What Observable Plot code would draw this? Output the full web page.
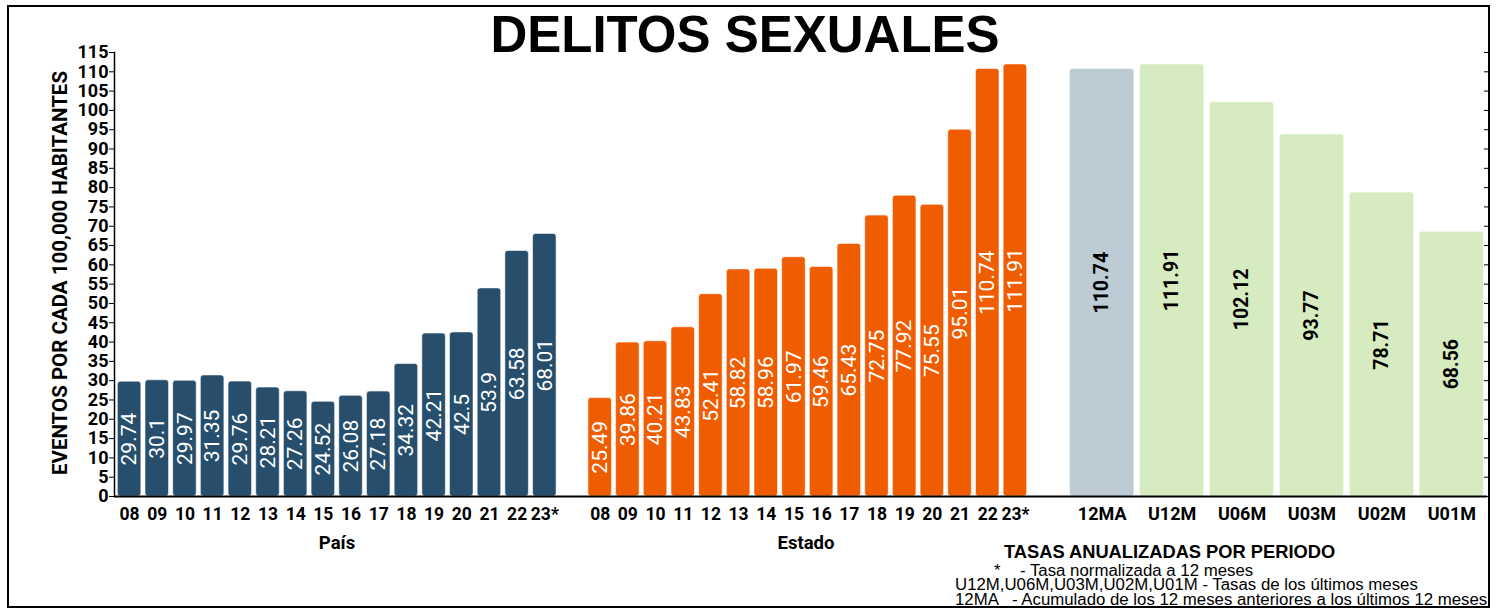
<!DOCTYPE html>
<html>
<head>
<meta charset="utf-8">
<script src="https://cdn.jsdelivr.net/npm/d3@7"></script>
<script src="https://cdn.jsdelivr.net/npm/@observablehq/plot@0.6"></script>
<style>
  html, body { margin: 0; padding: 0; background: #fff; }
  #wrap { position: relative; width: 1502px; height: 611px; background: #fff; overflow: hidden; }
  #wrap > div, #wrap > svg { position: absolute; }
  .title { font-family: "Liberation Sans", Arial, sans-serif; font-weight: bold; font-size: 51px; left: 0; width: 1490px; text-align: center; top: 5px; line-height: 60px; color: #000; }
  .ylab { font-family: Roboto, sans-serif; font-weight: bold; font-size: 20.5px; white-space: nowrap; transform-origin: center center; }
  .grp { font-family: Roboto, sans-serif; font-weight: bold; font-size: 18.5px; white-space: nowrap; transform: translateX(-50%); }
  .note { font-family: "Liberation Sans", Arial, sans-serif; font-size: 16px; white-space: pre; line-height: 14px; color: #000; transform: scaleX(1.05); transform-origin: left center; }
  .border { left: 7px; top: 5px; width: 1483px; height: 603px; box-sizing: border-box; border: 2px solid #000; pointer-events: none; }
</style>
</head>
<body>
<div id="wrap"></div>
<script>
// ---- Data ----
const years = ["08","09","10","11","12","13","14","15","16","17","18","19","20","21","22","23*"];
const paisValues = [29.74, 30.1, 29.97, 31.35, 29.76, 28.21, 27.26, 24.52, 26.08, 27.18, 34.32, 42.21, 42.5, 53.9, 63.58, 68.01];
const estadoValues = [25.49, 39.86, 40.21, 43.83, 52.41, 58.82, 58.96, 61.97, 59.46, 65.43, 72.75, 77.92, 75.55, 95.01, 110.74, 111.91];
const periods = ["12MA","U12M","U06M","U03M","U02M","U01M"];
const periodValues = [110.74, 111.91, 102.12, 93.77, 78.71, 68.56];
const yTicks = [0,5,10,15,20,25,30,35,40,45,50,55,60,65,70,75,80,85,90,95,100,105,110,115];

// ---- Tables ----
const paisRows = years.map((y, i) => ({key: "P" + y, label: y, value: paisValues[i], group: "País"}));
const estadoRows = years.map((y, i) => ({key: "E" + y, label: y, value: estadoValues[i], group: "Estado"}));
const leftDomain = [...paisRows.map(d => d.key), "gap", ...estadoRows.map(d => d.key)];
const labelOf = new Map([...paisRows, ...estadoRows].map(d => [d.key, d.label]));
const periodRows = periods.map((p, i) => ({period: p, value: periodValues[i]}));

const H = 611, baseY = 496, topY = 52;
const wrap = document.getElementById("wrap");

const left = Plot.plot({
  width: 1030, height: H,
  marginLeft: 114, marginRight: 0, marginTop: topY, marginBottom: H - baseY,
  style: {fontFamily: "Roboto, sans-serif", fontSize: "18px", fontWeight: "bold", color: "#000", background: "transparent", overflow: "visible"},
  x: {type: "band", domain: leftDomain, paddingInner: 0.15, paddingOuter: 0.12, round: false},
  y: {domain: [0, 115]},
  marks: [
    Plot.barY(paisRows, {x: "key", y: "value", fill: "#274f6d", rx: 3, stroke: "#ffffff", strokeOpacity: 0.55, strokeWidth: 1}),
    Plot.barY(estadoRows, {x: "key", y: "value", fill: "#f05d00", rx: 3, stroke: "#ffffff", strokeOpacity: 0.55, strokeWidth: 1}),
    Plot.text([...paisRows, ...estadoRows], {x: "key", y: d => d.value / 2, text: d => String(d.value), rotate: -90, fill: "#ffffff", fontSize: 21, fontWeight: "normal"}),
    Plot.ruleY([0], {stroke: "#000", strokeWidth: 2}),
    Plot.frame({anchor: "left", stroke: "#000", strokeWidth: 1.5}),
    Plot.axisY({ticks: yTicks, tickSize: 5, tickPadding: 1, label: null, fontSize: 18}),
    Plot.axisX({tickSize: 0, tickPadding: 11, tickFormat: k => labelOf.get(k) || "", label: null, fontSize: 17.5})
  ]
});
left.style.left = "0px";
left.style.top = "0px";
wrap.appendChild(left);

const right = Plot.plot({
  width: 472, height: H,
  marginLeft: 36, marginRight: 15, marginTop: topY, marginBottom: H - baseY,
  style: {fontFamily: "Roboto, sans-serif", fontSize: "18px", fontWeight: "bold", color: "#000", background: "transparent", overflow: "visible"},
  x: {type: "band", domain: periods, paddingInner: 0.08, paddingOuter: 0.05, round: false},
  y: {domain: [0, 115]},
  color: {domain: periods, range: ["#bccbd4", "#d6ecc0", "#d6ecc0", "#d6ecc0", "#d6ecc0", "#d6ecc0"]},
  marks: [
    Plot.barY(periodRows, {x: "period", y: "value", fill: "period", rx: 3, stroke: "#ffffff", strokeOpacity: 0.5, strokeWidth: 1}),
    Plot.text(periodRows, {x: "period", y: d => d.value / 2, text: d => d.value.toFixed(2), rotate: -90, fill: "#000", fontSize: 19.5, fontWeight: "bold"}),
    Plot.ruleY([0], {stroke: "#000", strokeWidth: 2, insetLeft: -36}),
    Plot.axisY({anchor: "right", ticks: yTicks, tickSize: -4, tickFormat: () => "", label: null}),
    Plot.axisX({tickSize: 0, tickPadding: 11, label: null, fontSize: 18})
  ]
});
right.style.left = "1030px";
right.style.top = "0px";
wrap.appendChild(right);

// ---- Texts ----
function addDiv(cls, text, css) {
  const d = document.createElement("div");
  d.className = cls;
  d.textContent = text;
  Object.assign(d.style, css);
  wrap.appendChild(d);
  return d;
}
addDiv("title", "DELITOS SEXUALES", {});
const yl = addDiv("ylab", "EVENTOS POR CADA 100,000 HABITANTES", {});
const w = yl.getBoundingClientRect().width, h = yl.getBoundingClientRect().height;
yl.style.left = (60 - w / 2) + "px";
yl.style.top = (273 - h / 2) + "px";
yl.style.transform = "rotate(-90deg)";

addDiv("grp", "País", {left: "337px", top: "532px"});
addDiv("grp", "Estado", {left: "806px", top: "532px"});
addDiv("note", "TASAS ANUALIZADAS POR PERIODO", {left: "1004px", top: "543px", fontWeight: "bold", fontSize: "18.3px", lineHeight: "18px", transform: "none"});
addDiv("note", "*", {left: "994px", top: "564px"});
addDiv("note", "- Tasa normalizada a 12 meses", {left: "1020px", top: "564px"});
addDiv("note", "U12M,U06M,U03M,U02M,U01M - Tasas de los últimos meses", {left: "955px", top: "578px"});
addDiv("note", "12MA   - Acumulado de los 12 meses anteriores a los últimos 12 meses", {left: "955px", top: "593px"});
addDiv("border", "", {});
</script>
</body>
</html>
